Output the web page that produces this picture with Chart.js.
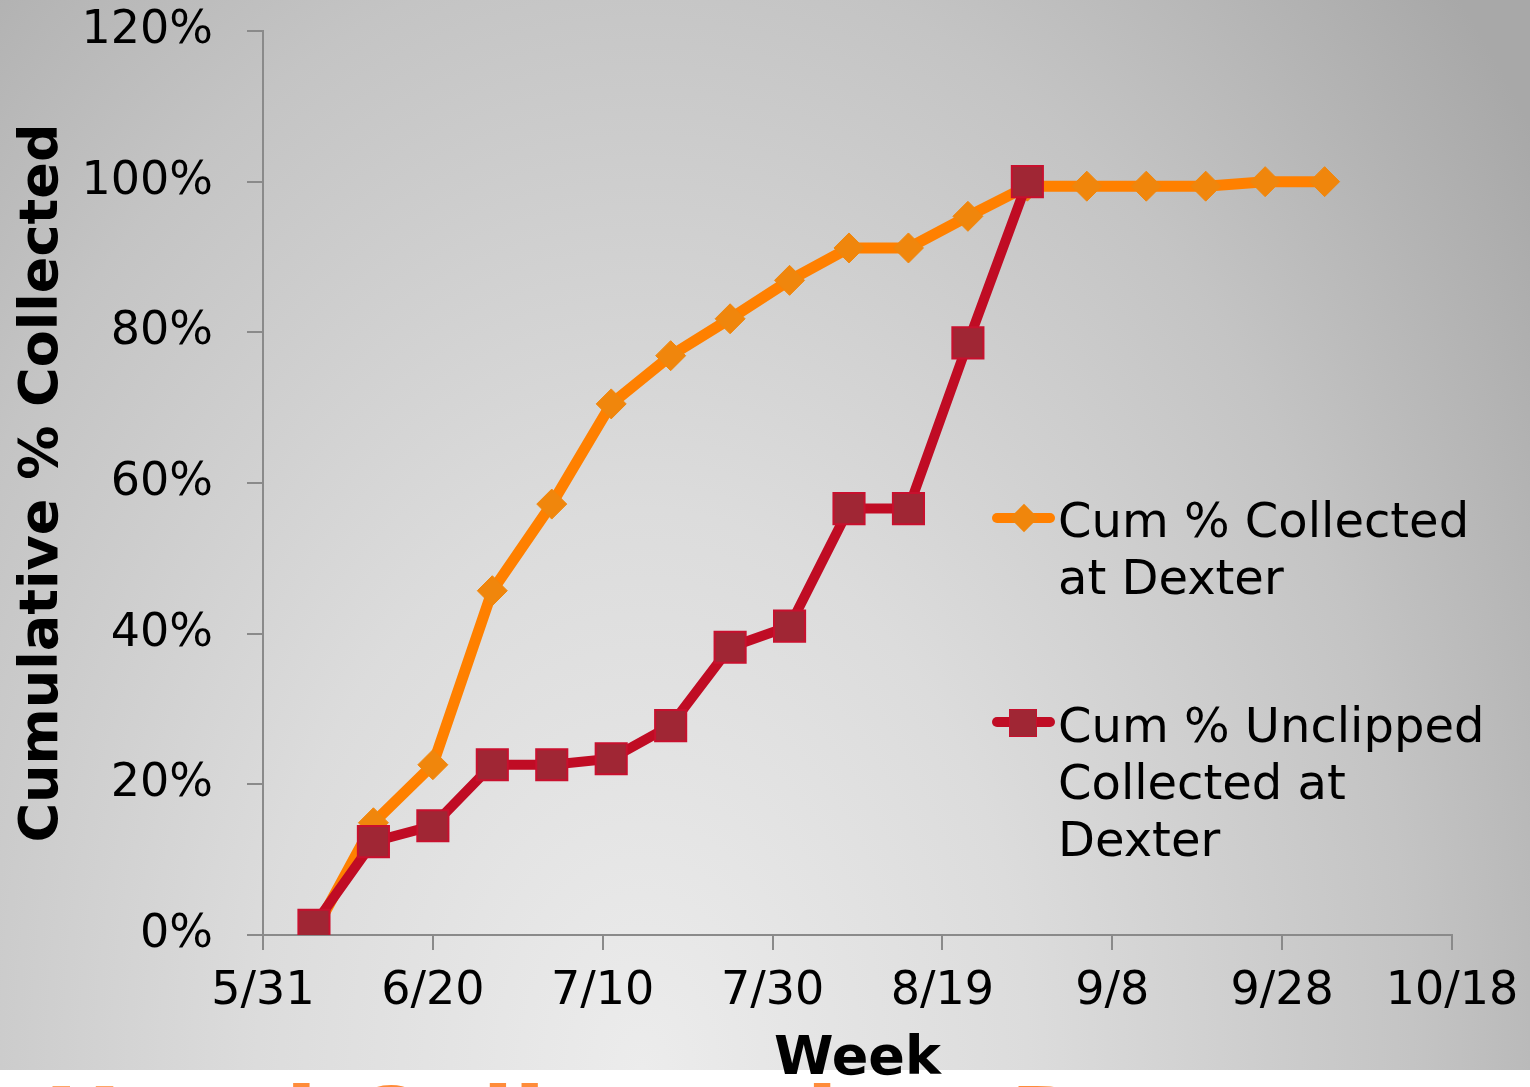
<!DOCTYPE html>
<html>
<head>
<meta charset="utf-8">
<script src="https://cdn.jsdelivr.net/npm/chart.js@4.4.0/dist/chart.umd.min.js"></script>
<style>
  html, body { margin: 0; padding: 0; background: #fff; }
  #wrap { position: relative; width: 1530px; height: 1087px; overflow: hidden; font-family: "DejaVu Sans", Verdana, sans-serif; }
  #bg { position: absolute; left: 0; top: 0; width: 1530px; height: 1070px;
        background: radial-gradient(ellipse 1100px 1600px at 42% 100%, #ececec 0%, #dcdcdc 35%, #c4c4c4 70%, #a8a8a8 100%); }
  #slideTitle { position: absolute; left: 44px; top: 1076px; font-weight: bold; font-size: 93px; line-height: 1;
        color: #ff8c3a; white-space: nowrap; }
  canvas { position: absolute; left: 0; top: 0; }
  .legend { position: absolute; left: 1058px; font-size: 48px; line-height: 57px; color: #000; white-space: nowrap; }
  .lg-line { position: absolute; height: 10px; border-radius: 5px; }
  .lg-mark { position: absolute; }
</style>
</head>
<body>
<div id="wrap">
  <div id="bg"></div>
  <div id="slideTitle">Hand Collected at Dexter</div>
  <canvas id="chart" width="1530" height="1087"></canvas>

  <div class="lg-line" style="left:992px; top:513px; width:63px; background:#ff8000;"></div>
  <div class="lg-mark" style="left:1014px; top:508px; width:20px; height:20px; background:#f0860c; transform:rotate(45deg);"></div>
  <div class="legend" style="top:492px;">Cum % Collected<br>at Dexter</div>

  <div class="lg-line" style="left:992px; top:717px; width:63px; background:#c00c24;"></div>
  <div class="lg-mark" style="left:1009px; top:709px; width:26px; height:26px; background:#a02634; border:1px solid #c8102e;"></div>
  <div class="legend" style="top:697px;">Cum % Unclipped<br>Collected at<br>Dexter</div>
</div>

<script>
// week dates (M/D) and cumulative percentages
const collectedDates = ['6/6', '6/13', '6/20', '6/27', '7/4', '7/11', '7/18', '7/25', '8/1', '8/8', '8/15', '8/22', '8/29', '9/5', '9/12', '9/19', '9/26', '10/3'];
const collectedPct = [0.3, 14.9, 22.6, 45.7, 57.2, 70.5, 76.9, 81.8, 86.9, 91.2, 91.2, 95.4, 99.4, 99.4, 99.4, 99.4, 100, 100];

const unclippedDates = ['6/6', '6/13', '6/20', '6/27', '7/4', '7/11', '7/18', '7/25', '8/1', '8/8', '8/15', '8/22', '8/29'];
const unclippedPct = [1.3, 12.4, 14.5, 22.6, 22.6, 23.4, 27.8, 38.2, 41.0, 56.6, 56.6, 78.6, 100];

const xTickLabels = ['5/31', '6/20', '7/10', '7/30', '8/19', '9/8', '9/28', '10/18'];
const yTickValues = [0, 20, 40, 60, 80, 100, 120];

// days since 5/31
const monthStart = { 5: -31, 6: 0, 7: 30, 8: 61, 9: 92, 10: 122 };
function dayOffset(md) {
  const [m, d] = md.split('/').map(Number);
  return monthStart[m] + d;
}
const toPoints = (dates, vals) => dates.map((d, i) => ({ x: dayOffset(d), y: vals[i] }));

const axisColor = '#8a8a8a';
const tickFont = { family: '"DejaVu Sans", Verdana, sans-serif', size: 46 };
const titleFont = { family: '"DejaVu Sans", Verdana, sans-serif', size: 54, weight: 'bold', lineHeight: 1 };

new Chart(document.getElementById('chart'), {
  type: 'line',
  data: {
    datasets: [
      {
        label: 'Cum % Collected at Dexter',
        data: toPoints(collectedDates, collectedPct),
        borderColor: '#ff8000', borderWidth: 11,
        pointStyle: 'rectRot', pointRadius: 15, pointBackgroundColor: '#f0860c',
        pointBorderColor: '#f0860c', pointBorderWidth: 1,
        tension: 0, order: 1
      },
      {
        label: 'Cum % Unclipped Collected at Dexter',
        data: toPoints(unclippedDates, unclippedPct),
        borderColor: '#c00c24', borderWidth: 10,
        pointStyle: 'rect', pointRadius: 22, pointBackgroundColor: '#a02634',
        pointBorderColor: '#c8102e', pointBorderWidth: 2,
        tension: 0, order: 0
      }
    ]
  },
  options: {
    responsive: false,
    animation: false,
    layout: { padding: { top: 31, right: 78, left: 0, bottom: 0 } },
    plugins: { legend: { display: false }, tooltip: { enabled: false } },
    scales: {
      x: {
        type: 'linear', min: 0, max: 140,
        afterFit: (s) => { s.height = 152; s.paddingLeft = 0; s.paddingRight = 0; },
        afterBuildTicks: (s) => { s.ticks = xTickLabels.map((_, i) => ({ value: i * 20 })); },
        ticks: { callback: (v) => xTickLabels[v / 20], color: '#000', font: tickFont, padding: 14, maxRotation: 0 },
        grid: { display: true, drawOnChartArea: false, drawTicks: true, tickLength: 15, color: axisColor, lineWidth: 2 },
        border: { display: true, color: axisColor, width: 2 },
        title: { display: true, text: 'Week', color: '#000', font: titleFont, padding: { top: 0, bottom: 0 } }
      },
      y: {
        min: 0, max: 120,
        afterFit: (s) => { s.width = 263; s.paddingTop = 0; s.paddingBottom = 0; },
        afterBuildTicks: (s) => { s.ticks = yTickValues.map(v => ({ value: v })); },
        ticks: { callback: (v) => v + '%', color: '#000', font: tickFont, padding: 34 },
        grid: { display: true, drawOnChartArea: false, drawTicks: true, tickLength: 16, color: axisColor, lineWidth: 2 },
        border: { display: true, color: axisColor, width: 2 },
        title: { display: true, text: 'Cumulative % Collected', color: '#000', font: titleFont, padding: { top: 16, bottom: 0 } }
      }
    }
  }
});
</script>
</body>
</html>
